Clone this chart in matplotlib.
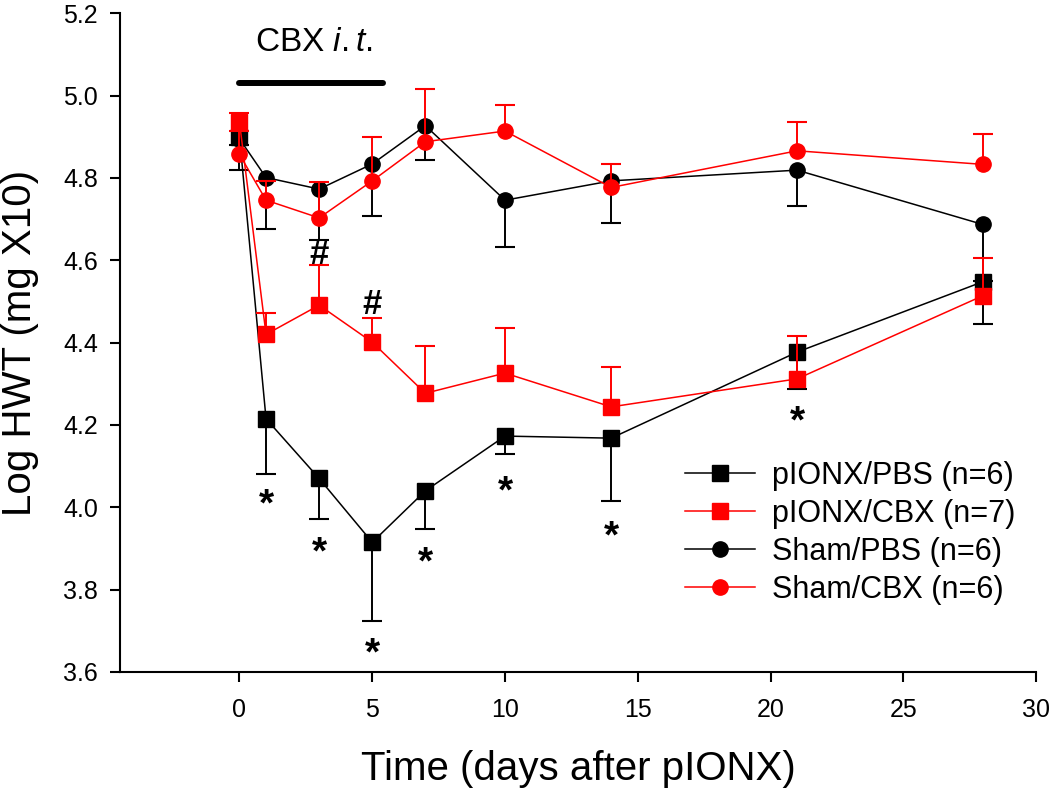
import numpy as np
import matplotlib.pyplot as plt

plt.rcParams['font.family'] = ['Liberation Sans', 'DejaVu Sans']
plt.rcParams['mathtext.fontset'] = 'custom'
plt.rcParams['mathtext.rm'] = 'Liberation Sans'
plt.rcParams['mathtext.it'] = 'Liberation Sans:italic'

# days after pIONX
days = [0, 1, 3, 5, 7, 10, 14, 21, 28]

# group means (log HWT)
ionx_pbs = [4.900, 4.215, 4.070, 3.915, 4.040, 4.173, 4.168, 4.377, 4.548]
ionx_cbx = [4.935, 4.420, 4.491, 4.401, 4.277, 4.326, 4.244, 4.312, 4.514]
sham_pbs = [4.895, 4.801, 4.773, 4.834, 4.927, 4.746, 4.793, 4.819, 4.687]
sham_cbx = [4.857, 4.746, 4.703, 4.793, 4.888, 4.914, 4.777, 4.866, 4.833]

# one-sided SEM
ionx_pbs_err = [0.020, 0.134, 0.098, 0.192, 0.093, 0.044, 0.152, 0.090, 0.103]
ionx_cbx_err = [0.024, 0.052, 0.098, 0.058, 0.116, 0.109, 0.098, 0.104, 0.092]
sham_pbs_err = [0.076, 0.126, 0.124, 0.126, 0.083, 0.113, 0.102, 0.087, 0.137]
sham_cbx_err = [0.058, 0.047, 0.086, 0.106, 0.129, 0.064, 0.058, 0.071, 0.075]

# significance marks
star_days = [1, 3, 5, 7, 10, 14, 21]
star_y = [4.028, 3.910, 3.666, 3.887, 4.058, 3.949, 4.230]
hash_days = [3, 5]
hash_y = [4.621, 4.499]

# CBX treatment window
cbx_days = [0, 5.4]
cbx_level = 5.031

fig = plt.figure(figsize=(10.5, 7.96), dpi=100)
ax = fig.add_axes([0.1143, 0.1558, 0.8724, 0.8275])

series = [
    ('pIONX/PBS (n=6)', ionx_pbs, ionx_pbs_err, 'black', 's', -1, 2),
    ('Sham/PBS (n=6)', sham_pbs, sham_pbs_err, 'black', 'o', -1, 3),
    ('pIONX/CBX (n=7)', ionx_cbx, ionx_cbx_err, 'red', 's', 1, 4),
    ('Sham/CBX (n=6)', sham_cbx, sham_cbx_err, 'red', 'o', 1, 5),
]

handles = {}
for label, y, err, color, marker, side, z in series:
    y = np.array(y)
    err = np.array(err)
    zero = np.zeros_like(err)
    if side < 0:
        yerr = [err, zero]
    else:
        yerr = [zero, err]
    ax.errorbar(days, y, yerr=yerr, fmt='none', ecolor=color,
                elinewidth=1.4, capsize=0, zorder=z)
    ax.plot(days, y + side * err, ls='none', marker='_', ms=14.5,
            mew=1.5, color=color, zorder=z)
    line, = ax.plot(days, y, color=color, lw=1.1, marker=marker, ms=11,
                    label=label, zorder=z + 0.5)
    handles[label] = line

for d, v in zip(star_days, star_y):
    ax.annotate('*', (d, v), xytext=(0, -14), textcoords='offset points',
                ha='center', va='baseline', fontsize=28, fontweight='bold')
for d, v in zip(hash_days, hash_y):
    ax.annotate('#', (d, v), xytext=(0, -9), textcoords='offset points',
                ha='center', va='baseline', fontsize=25, fontweight='bold')

ax.plot(cbx_days, [cbx_level, cbx_level], color='black', lw=4.3,
        solid_capstyle='round', clip_on=False)
ax.text(2.78, 5.13, r'CBX $\it{i.t.}$', ha='center', va='center', fontsize=24)

ax.set_xlim(-4.5, 30)
ax.set_ylim(3.6, 5.2)
ax.set_xticks(np.arange(0, 31, 5))
ax.set_yticks(np.arange(3.6, 5.21, 0.2))
ax.set_yticklabels(['%.1f' % t for t in np.arange(3.6, 5.21, 0.2)])

for s in ['top', 'right']:
    ax.spines[s].set_visible(False)
for s in ['left', 'bottom']:
    ax.spines[s].set_linewidth(1.5)
ax.tick_params(direction='out', length=7, width=1.5, labelsize=18)
ax.tick_params(axis='y', pad=9)
ax.tick_params(axis='x', pad=12)

ax.set_xlabel('Time (days after pIONX)', fontsize=29, labelpad=20)
ax.set_ylabel('Log HWT (mg X10)', fontsize=29, labelpad=17)

order = ['pIONX/PBS (n=6)', 'pIONX/CBX (n=7)', 'Sham/PBS (n=6)', 'Sham/CBX (n=6)']
ax.legend([handles[k] for k in order], order, loc='upper left',
          bbox_to_anchor=(685 / 1050, 1 - 461 / 796),
          bbox_transform=fig.transFigure, frameon=False, fontsize=22,
          borderpad=0, borderaxespad=0, handlelength=2.3,
          handletextpad=0.55, labelspacing=0.26)

fig.savefig('out.png', dpi=100)
